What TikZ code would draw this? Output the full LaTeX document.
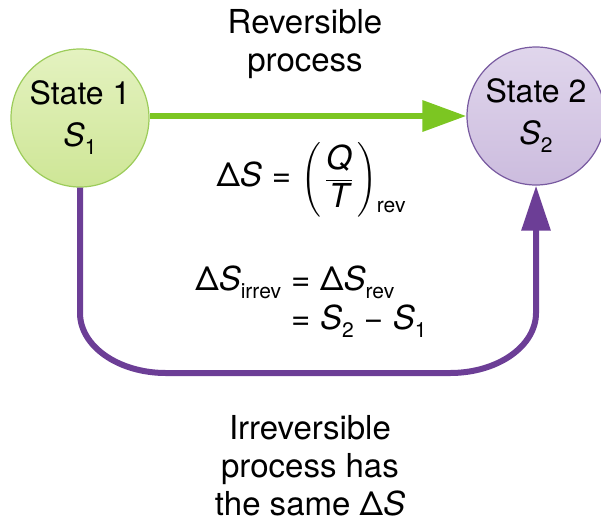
\documentclass[tikz,border=0pt]{standalone}
\usepackage{amsmath}
\usepackage{fontspec}
\setmainfont{TeX Gyre Heros}
\usetikzlibrary{arrows.meta}

\definecolor{revgreen}{RGB}{124,198,34}
\definecolor{irrpurple}{RGB}{108,62,150}
\definecolor{sonetop}{RGB}{228,242,192}
\definecolor{sonebot}{RGB}{206,230,150}
\definecolor{sonedraw}{RGB}{156,204,90}
\definecolor{stwotop}{RGB}{224,214,236}
\definecolor{stwobot}{RGB}{204,188,222}
\definecolor{stwodraw}{RGB}{120,90,160}
\newcommand{\lowsub}[2][0.25em]{\raisebox{-#1}{\fontsize{21}{21}\selectfont #2}}
\newcommand{\eqs}{\hspace{0.3em}=\hspace{0.3em}}

\begin{document}
\begin{tikzpicture}[x=1pt,y=-1pt,line join=round,
  every node/.style={font=\fontsize{33}{38}\selectfont},
  statenode/.style={circle,minimum size=138pt,inner sep=0pt,line width=1.2pt,
    align=center,font=\fontsize{32}{42}\selectfont},
  revedge/.style={draw=revgreen,line width=6.5pt,-{Triangle[length=44pt,width=30pt]}},
  irredge/.style={draw=irrpurple,line width=6pt,-{Triangle[length=45pt,width=28pt]}}]
\useasboundingbox (0,0) rectangle (601,523);

% Node: S1
\node[statenode,draw=sonedraw,top color=sonetop,bottom color=sonebot] (s1) at (80,118)
  {State 1\\\textit{S}\lowsub{1}};

% Node: S2
\node[statenode,draw=stwodraw,top color=stwotop,bottom color=stwobot] (s2) at (536,116)
  {State 2\\\textit{S}\lowsub{2}};

% Edge: S1 -> S2 (reversible)
\draw[revedge] (s1.east |- 0,116) -- (s2.west);

% Edge: S1 -> S2 (irreversible)
\coordinate (irrleft) at (80,313);
\coordinate (irrright) at (536,313);
\draw[irredge] (s1.south) -- (irrleft) .. controls (80,346) and (118,373) .. (166,373)
  -- (450,373) .. controls (498,373) and (536,346) .. (irrright) -- (s2.south);

% Labels
\node[align=center] (revlabel) at (305,44) {Reversible\\process};
\node (reveq) at (311,180)
  {Δ\textit{S}\eqs$\Biggl(\,\dfrac{\mbox{\itshape Q}}{\mbox{\itshape T}}\,\Biggr)$\lowsub[26pt]{rev}};
\node (irreq) at (311,302)
  {\begin{tabular}{@{}r@{}l@{}}
    Δ\textit{S}\lowsub{irrev} & \eqs Δ\textit{S}\lowsub{rev}\\[1pt]
    & \eqs\textit{S}\lowsub{2}\hspace{0.3em}−\hspace{0.3em}\textit{S}\lowsub{1}
  \end{tabular}};
\node[align=center] (irrlabel) at (310,466) {Irreversible\\process has\\the same Δ\textit{S}};

\end{tikzpicture}
\end{document}
